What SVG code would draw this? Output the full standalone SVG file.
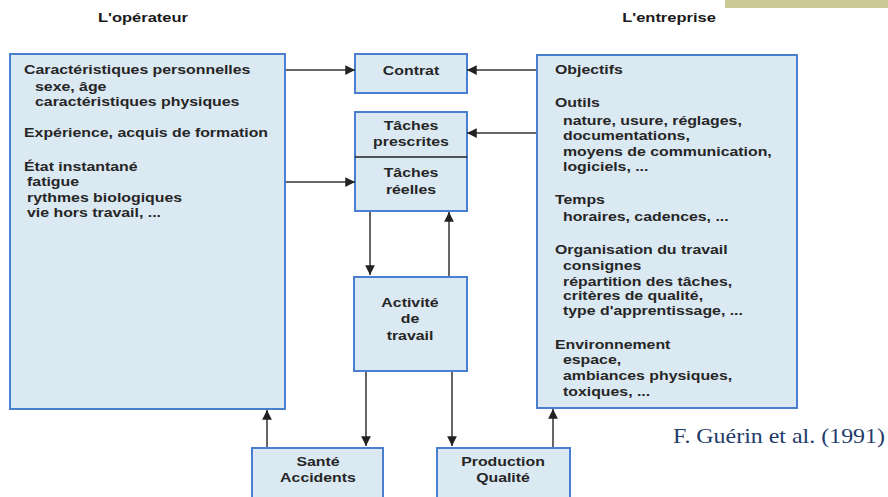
<svg xmlns="http://www.w3.org/2000/svg" width="888" height="497" viewBox="0 0 888 497">
<style>
.box{fill:#dbe9f3;stroke:#4a7fcf;stroke-width:2}
.t{font-family:"Liberation Sans",Arial,sans-serif;font-size:12.5px;font-weight:bold;fill:#262626}
.c{text-anchor:middle}
.ln{stroke:#333;stroke-width:1.5;fill:none;marker-end:url(#ah)}
.ttl{font-family:"Liberation Sans",Arial,sans-serif;font-size:12.5px;font-weight:bold;fill:#1a1a1a;text-anchor:middle}
</style>
<defs>
<marker id="ah" viewBox="0 0 10 10" refX="10" refY="5" markerWidth="7" markerHeight="6.5" orient="auto" markerUnits="strokeWidth">
<path d="M0,0 L10,5 L0,10 z" fill="#222"/>
</marker>
</defs>
<rect x="725" y="0" width="163" height="8" fill="#cdc996"/>
<g id="titles">
<text class="ttl" transform="matrix(1.32,0,0,1,143,22)" x="0" y="0">L'opérateur</text>
<text class="ttl" transform="matrix(1.32,0,0,1,669,22)" x="0" y="0">L'entreprise</text>
</g>
<g id="operateur">
<rect class="box" x="10" y="54" width="275" height="355"/>
<g class="t" transform="matrix(1.27,0,0,1,24,0)">
<text x="0" y="74">Caractéristiques personnelles</text>
<text x="8.7" y="91">sexe, âge</text>
<text x="8.7" y="106">caractéristiques physiques</text>
<text x="0" y="137">Expérience, acquis de formation</text>
<text x="0" y="171">État instantané</text>
<text x="2.4" y="186">fatigue</text>
<text x="2.4" y="202">rythmes biologiques</text>
<text x="2.4" y="217">vie hors travail, ...</text>
</g>
</g>
<g id="entreprise">
<rect class="box" x="537" y="55" width="260" height="353"/>
<g class="t" transform="matrix(1.27,0,0,1,555,0)">
<text x="0" y="74">Objectifs</text>
<text x="0" y="107">Outils</text>
<text x="6.3" y="125">nature, usure, réglages,</text>
<text x="6.3" y="140">documentations,</text>
<text x="6.3" y="156">moyens de communication,</text>
<text x="6.3" y="171">logiciels, ...</text>
<text x="0" y="204">Temps</text>
<text x="6.3" y="221">horaires, cadences, ...</text>
<text x="0" y="254">Organisation du travail</text>
<text x="6.3" y="270">consignes</text>
<text x="6.3" y="286">répartition des tâches,</text>
<text x="6.3" y="300">critères de qualité,</text>
<text x="6.3" y="315">type d'apprentissage, ...</text>
<text x="0" y="349">Environnement</text>
<text x="6.3" y="364">espace,</text>
<text x="6.3" y="380">ambiances physiques,</text>
<text x="6.3" y="396">toxiques, ...</text>
</g>
</g>
<g id="contrat">
<rect class="box" x="355" y="54" width="112" height="39"/>
<text class="t c" transform="matrix(1.27,0,0,1,411,0)" x="0" y="75">Contrat</text>
</g>
<g id="taches">
<rect class="box" x="355" y="112" width="112" height="99"/>
<line x1="355" y1="157" x2="467" y2="157" stroke="#222" stroke-width="1.5"/>
<g class="t c" transform="matrix(1.27,0,0,1,411,0)">
<text x="0" y="130">Tâches</text>
<text x="0" y="146">prescrites</text>
<text x="0" y="177">Tâches</text>
<text x="0" y="194">réelles</text>
</g>
</g>
<g id="activite">
<rect class="box" x="354" y="277" width="113" height="94"/>
<g class="t c" transform="matrix(1.27,0,0,1,410,0)">
<text x="0" y="307">Activité</text>
<text x="0" y="323">de</text>
<text x="0" y="340">travail</text>
</g>
</g>
<g id="sante">
<rect class="box" x="252" y="448" width="131" height="60"/>
<g class="t c" transform="matrix(1.27,0,0,1,318,0)">
<text x="0" y="466">Santé</text>
<text x="0" y="482">Accidents</text>
</g>
</g>
<g id="production">
<rect class="box" x="437" y="448" width="133" height="60"/>
<g class="t c" transform="matrix(1.27,0,0,1,503,0)">
<text x="0" y="466">Production</text>
<text x="0" y="482">Qualité</text>
</g>
</g>
<g id="connectors">
<line class="ln" x1="286" y1="70" x2="355" y2="70"/>
<line class="ln" x1="286" y1="182" x2="355" y2="182"/>
<line class="ln" x1="536" y1="70" x2="467" y2="70"/>
<line class="ln" x1="536" y1="133" x2="467" y2="133"/>
<line class="ln" x1="370" y1="212" x2="370" y2="275"/>
<line class="ln" x1="449" y1="276" x2="449" y2="212"/>
<line class="ln" x1="366" y1="372" x2="366" y2="446"/>
<line class="ln" x1="452" y1="372" x2="452" y2="446"/>
<line class="ln" x1="267" y1="447" x2="267" y2="410"/>
<line class="ln" x1="553" y1="447" x2="553" y2="409"/>
</g>
<text x="673" y="443" font-family="'Liberation Serif','Times New Roman',serif" font-size="21" fill="#1f3b6b" textLength="212" lengthAdjust="spacingAndGlyphs">F. Guérin et al. (1991)</text>
</svg>
